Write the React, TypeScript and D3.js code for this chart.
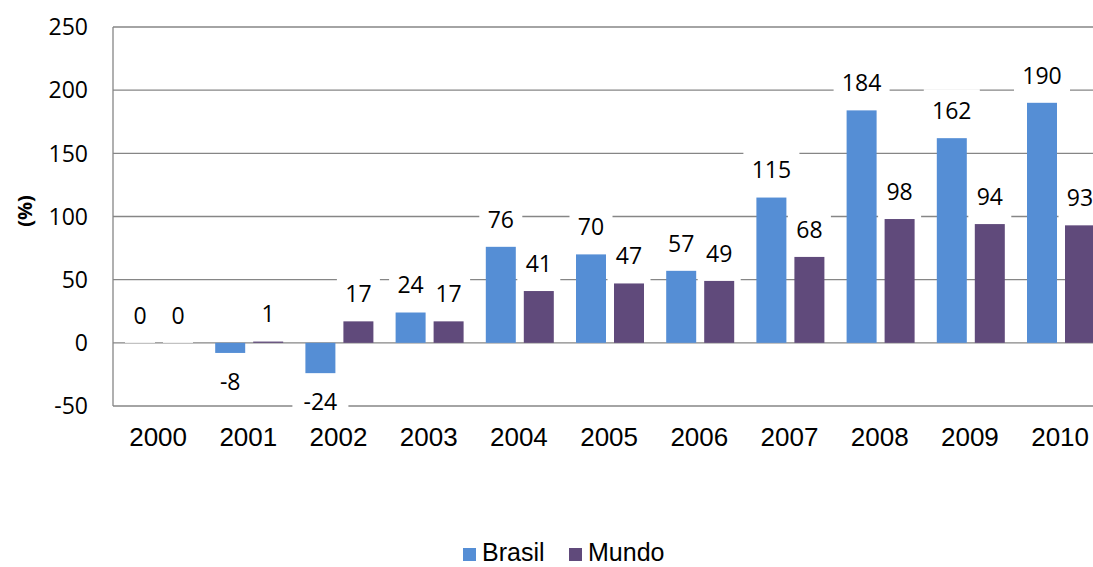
import React from "react";
import * as d3 from "d3";

const years = ["2000", "2001", "2002", "2003", "2004", "2005", "2006", "2007", "2008", "2009", "2010"];
const brasil = [0, -8, -24, 24, 76, 70, 57, 115, 184, 162, 190];
const mundo = [0, 1, 17, 17, 41, 47, 49, 68, 98, 94, 93];
const seriesNames = ["Brasil", "Mundo"];
const seriesColors = ["#558ED5", "#604A7B"];
const yTicks = [-50, 0, 50, 100, 150, 200, 250];

const W = 1093;
const H = 567;
const left = 113;
const bandW = 90.2;
const top = 27;
const bottom = 406;

export default function App() {
  const x = d3.scaleBand<string>().domain(years).range([left, left + bandW * years.length]).paddingInner(0).paddingOuter(0);
  const xs = d3.scaleBand<string>().domain(seriesNames).range([12, 80]).paddingInner(8 / 38).paddingOuter(0);
  const y = d3.scaleLinear().domain([-50, 250]).range([bottom, top]);
  const data = [brasil, mundo];
  const labelFont = "'Open Sans', 'Noto Sans', sans-serif";
  const arial = "'Liberation Sans', Arial, sans-serif";
  const grid = "#868686";

  const bars: React.ReactNode[] = [];
  const labels: React.ReactNode[] = [];
  data.forEach((vals, si) => {
    vals.forEach((v, i) => {
      const x0 = (x(years[i]) as number) + (xs(seriesNames[si]) as number);
      const bw = xs.bandwidth();
      const y0 = y(Math.max(v, 0));
      const y1 = y(Math.min(v, 0));
      if (v !== 0) {
        bars.push(
          <rect key={`b${si}-${i}`} x={x0} y={y0} width={bw} height={Math.max(y1 - y0, 0.5)} fill={seriesColors[si]} />
        );
      }
      const txt = String(v);
      const tw = txt.length * 13 + 17;
      const cx = x0 + bw / 2;
      let boxY: number, ty: number;
      if (v >= 0) {
        boxY = y0 - 49;
        ty = y0 - 27.5;
      } else {
        boxY = y1;
        ty = y1 + 29;
      }
      labels.push(
        <g key={`l${si}-${i}`}>
          <rect x={cx - tw / 2} y={boxY} width={tw} height={49} fill="#fff" />
          <text x={cx} y={ty} dy="0.36em" textAnchor="middle" fontFamily={labelFont} fontSize={23} fill="#000">
            {txt}
          </text>
        </g>
      );
    });
  });

  return (
    <svg width={W} height={H} style={{ position: "absolute", left: 0, top: 0, background: "#fff" }}>
      <rect x={0} y={0} width={W} height={H} fill="#fff" />
      {yTicks.map((t) => (
        <line key={`g${t}`} x1={left} x2={left + bandW * years.length} y1={y(t)} y2={y(t)} stroke={grid} strokeWidth={1.3} />
      ))}
      <line x1={left} x2={left} y1={top} y2={bottom} stroke={grid} strokeWidth={1.3} />
      {labels}
      {bars}
      {yTicks.map((t) => (
        <text key={`t${t}`} x={88} y={y(t)} dy="0.36em" textAnchor="end" fontFamily={labelFont} fontSize={23} fill="#000">
          {t}
        </text>
      ))}
      {years.map((yr) => (
        <text key={`x${yr}`} x={(x(yr) as number) + bandW / 2} y={446} textAnchor="middle" fontFamily={arial} fontSize={26} fill="#000">
          {yr}
        </text>
      ))}
      <text
        transform={`translate(25,211) rotate(-90)`}
        textAnchor="middle"
        dy="0.36em"
        fontFamily={labelFont}
        fontWeight="bold"
        fontSize={20}
        fill="#000"
      >
        (%)
      </text>
      <rect x={463} y={548} width={13} height={13} fill={seriesColors[0]} />
      <text x={482} y={561} fontFamily={arial} fontSize={25} fill="#000">
        {seriesNames[0]}
      </text>
      <rect x={569} y={548} width={13} height={13} fill={seriesColors[1]} />
      <text x={588} y={561} fontFamily={arial} fontSize={25} fill="#000">
        {seriesNames[1]}
      </text>
    </svg>
  );
}
